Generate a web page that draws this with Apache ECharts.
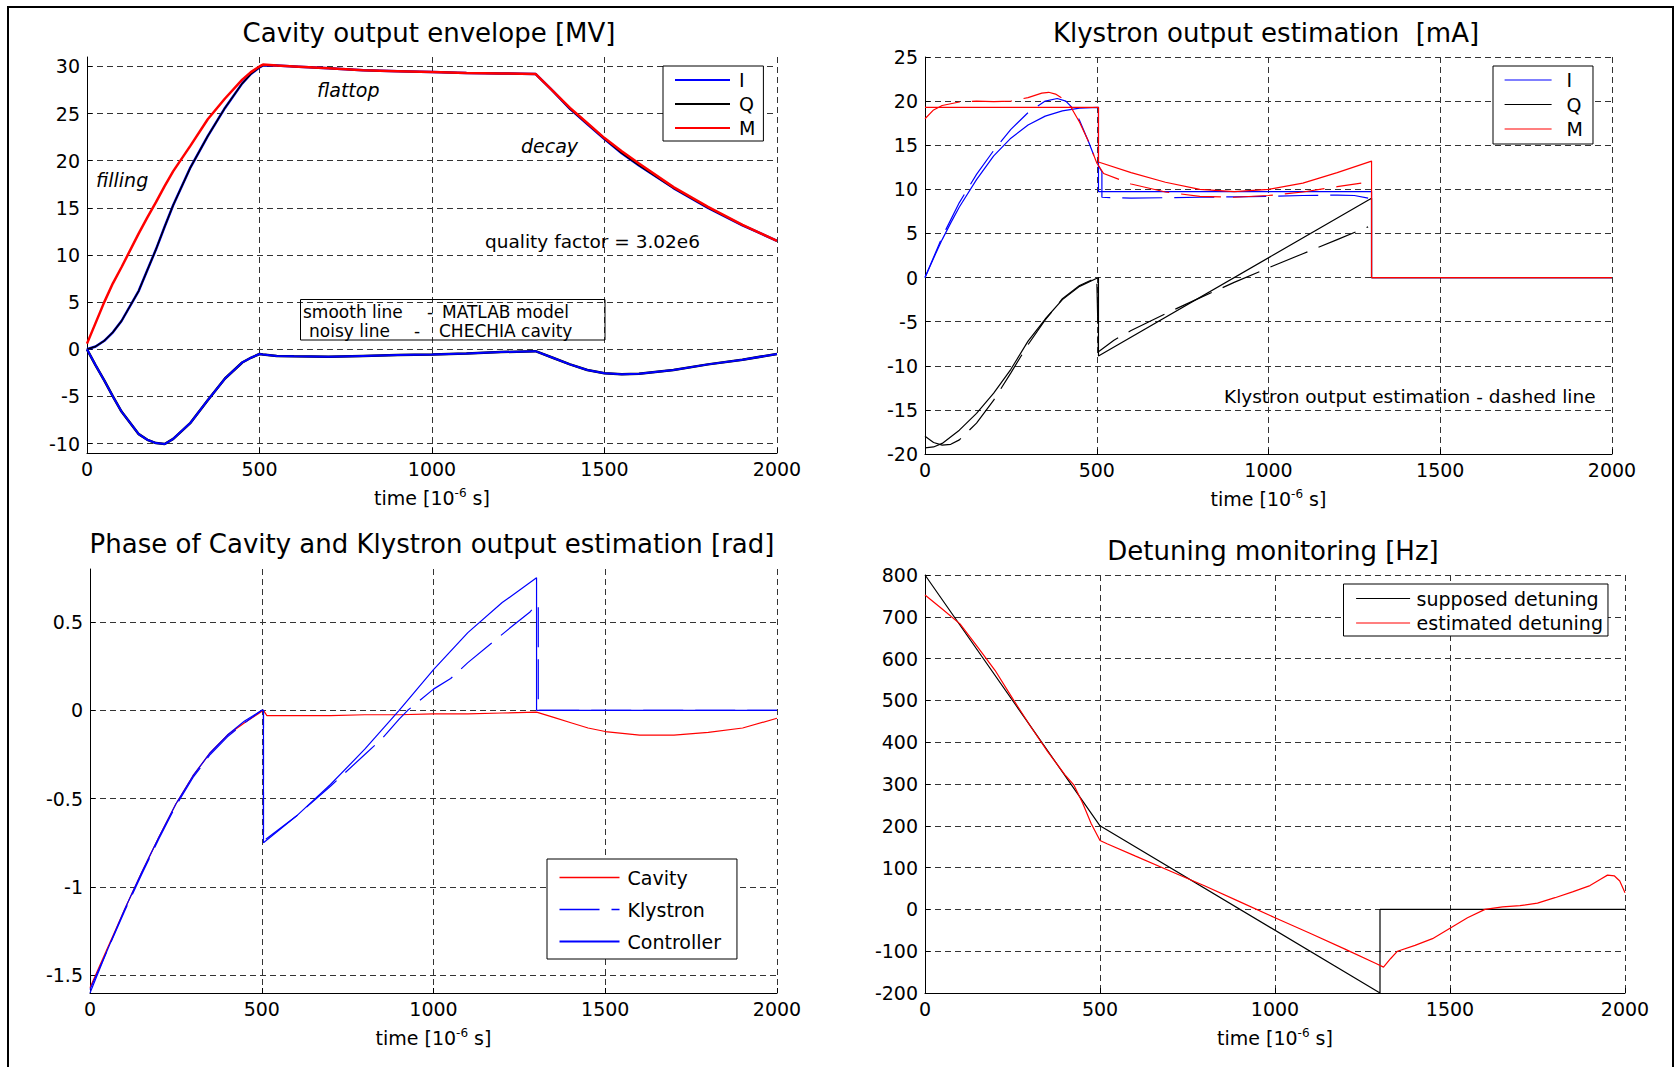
<!DOCTYPE html>
<html>
<head>
<meta charset="utf-8">
<title>Cavity, klystron and detuning monitoring</title>
<script src="https://cdn.jsdelivr.net/npm/echarts@6/dist/echarts.min.js"></script>
<style>
  html, body { margin: 0; padding: 0; background: #fff; }
  #chart { width: 1677px; height: 1067px; }
</style>
</head>
<body>
<div id="chart"></div>
<script>
// time axis is in 10^-6 s everywhere

// cavity output envelope [MV]
var p1Time = [0, 25, 50, 75, 100, 150, 175, 200, 225, 250, 300, 350, 400, 450, 475, 500, 510, 550, 600, 700, 800, 900, 1000, 1100, 1200, 1300, 1350, 1400, 1450, 1500, 1550, 1600, 1700, 1800, 1900, 2000];
var p1M = [0.6, 2.8, 5.0, 7.0, 8.7, 12.3, 14.0, 15.6, 17.3, 18.9, 21.6, 24.4, 26.6, 28.6, 29.4, 30.0, 30.2, 30.1, 30.0, 29.8, 29.6, 29.5, 29.4, 29.3, 29.25, 29.2, 27.4, 25.6, 24.0, 22.4, 21.0, 19.7, 17.2, 15.1, 13.2, 11.5];
var p1I = [0, 0.3, 0.9, 1.8, 3.0, 6.2, 8.4, 10.6, 13.0, 15.3, 19.3, 22.6, 25.6, 28.2, 29.2, 29.9, 30.1, 30.1, 30.0, 29.8, 29.6, 29.5, 29.4, 29.3, 29.25, 29.2, 27.4, 25.5, 23.9, 22.3, 20.8, 19.5, 17.1, 15.0, 13.15, 11.5];
var p1Q = [0, -1.7, -3.3, -5.0, -6.6, -9.0, -9.6, -9.95, -10.05, -9.5, -7.8, -5.4, -3.1, -1.4, -0.9, -0.5, -0.55, -0.7, -0.75, -0.8, -0.7, -0.6, -0.55, -0.45, -0.3, -0.2, -0.9, -1.6, -2.2, -2.55, -2.65, -2.6, -2.2, -1.6, -1.1, -0.5];

// klystron output [mA]: controller (solid) and estimation (dashed)
var p2ITime = [0, 25, 50, 75, 100, 150, 200, 250, 300, 350, 400, 450, 505, 505, 1300, 1300, 2000];
var p2I = [0, 2.2, 4.3, 6.2, 8.0, 11.1, 13.8, 15.8, 17.3, 18.3, 18.9, 19.2, 19.3, 9.75, 9.75, 0, 0];
var p2QTime = [0, 25, 50, 100, 150, 200, 250, 300, 350, 400, 450, 505, 505, 1300, 1300, 2000];
var p2Q = [-19.3, -19.2, -18.8, -17.3, -15.4, -13.1, -10.4, -7.2, -4.7, -2.5, -1.0, 0, -8.9, 9.0, 0, 0];
var p2MTime = [0, 505, 505, 600, 700, 800, 900, 1000, 1100, 1200, 1300, 1300, 2000];
var p2M = [19.3, 19.3, 13.1, 11.9, 10.8, 10.0, 9.75, 10.0, 10.7, 11.9, 13.2, 0, 0];
var p2EstITime = [0, 50, 100, 150, 200, 250, 300, 350, 385, 410, 430, 450, 475, 500, 515, 515, 600, 700, 800, 900, 1000, 1100, 1200, 1250, 1290];
var p2EstI = [0, 4.6, 8.5, 11.7, 14.4, 16.8, 18.7, 20.0, 20.3, 20.0, 19.2, 17.8, 15.5, 13.0, 12.0, 9.1, 9.0, 9.05, 9.1, 9.15, 9.2, 9.3, 9.35, 9.3, 9.0];
var p2EstQTime = [0, 25, 50, 75, 100, 150, 200, 250, 300, 350, 400, 450, 500, 505, 550, 600, 700, 800, 900, 1000, 1100, 1200, 1290];
var p2EstQ = [-18.0, -18.7, -19.0, -18.9, -18.4, -16.5, -13.9, -10.8, -7.6, -4.8, -2.4, -0.9, 0, -8.4, -7.1, -6.0, -4.1, -2.3, -0.55, 1.1, 2.7, 4.3, 5.75];
var p2EstMTime = [0, 25, 50, 100, 150, 200, 250, 300, 340, 360, 380, 400, 425, 450, 475, 500, 520, 600, 700, 800, 900, 1000, 1100, 1200, 1270];
var p2EstM = [18.0, 19.0, 19.5, 19.9, 20.0, 19.95, 20.0, 20.4, 20.9, 21.0, 20.8, 20.3, 19.3, 17.6, 15.5, 13.0, 11.8, 10.6, 9.7, 9.2, 9.1, 9.3, 9.7, 10.3, 10.7];

// phase [rad]
var p3CavityTime = [0, 25, 50, 75, 100, 150, 200, 250, 300, 350, 400, 450, 490, 505, 515, 600, 700, 800, 900, 1000, 1100, 1200, 1300, 1350, 1400, 1450, 1500, 1550, 1600, 1700, 1800, 1900, 2000];
var p3Cavity = [-1.57, -1.46, -1.35, -1.24, -1.13, -0.92, -0.72, -0.53, -0.37, -0.24, -0.14, -0.07, -0.02, 0, -0.03, -0.03, -0.03, -0.025, -0.025, -0.02, -0.02, -0.015, -0.01, -0.04, -0.07, -0.1, -0.12, -0.13, -0.14, -0.14, -0.125, -0.1, -0.045];
var p3CtrlTime = [0, 25, 50, 100, 150, 200, 250, 300, 350, 400, 450, 500, 505, 505, 600, 700, 800, 900, 1000, 1100, 1200, 1300, 1300, 2000];
var p3Ctrl = [-1.6, -1.48, -1.36, -1.13, -0.92, -0.72, -0.53, -0.37, -0.24, -0.14, -0.06, 0, 0, -0.75, -0.6, -0.42, -0.22, 0, 0.23, 0.44, 0.61, 0.75, 0, 0];
var p3KlyTime = [0, 25, 50, 100, 150, 200, 250, 300, 350, 400, 450, 500, 505, 505, 600, 700, 800, 850, 900, 925, 1000, 1050, 1100, 1175, 1225, 1280, 1300, 1305, 1305, 2000];
var p3Kly = [-1.58, -1.47, -1.36, -1.14, -0.93, -0.73, -0.54, -0.38, -0.25, -0.15, -0.07, 0, 0, -0.74, -0.6, -0.43, -0.25, -0.16, -0.05, 0, 0.12, 0.18, 0.27, 0.39, 0.47, 0.555, 0.6, 0.6, 0, 0];

// detuning [Hz]
var p4SupTime = [0, 500, 1300, 1300, 2000];
var p4Sup = [800, 200, -200, 0, 0];
var p4EstTime = [0, 50, 100, 150, 200, 250, 300, 350, 400, 425, 450, 475, 500, 520, 600, 700, 800, 900, 1000, 1100, 1200, 1290, 1310, 1330, 1350, 1400, 1450, 1500, 1550, 1600, 1650, 1700, 1750, 1800, 1850, 1900, 1930, 1950, 1970, 1985, 2000];
var p4Est = [752, 718, 683, 628, 572, 505, 440, 378, 322, 298, 255, 205, 165, 157, 128, 92, 56, 18, -20, -57, -95, -130, -138, -118, -100, -86, -70, -45, -20, 0, 6, 9, 15, 28, 42, 57, 72, 82, 80, 68, 40];

var p1Ticks = [-10, -5, 0, 5, 10, 15, 20, 25, 30];
var p3Ticks = [-1.5, -1, -0.5, 0, 0.5];

var FONT = '"DejaVu Sans", sans-serif';
var DASH = [40, 12];

function pairs(t, v) {
    return t.map(function (x, i) { return [x, v[i]]; });
}

function plain(v) {
    return String(v);
}

function xAxisOf(grid) {
    return {
        type: 'value', gridIndex: grid, min: 0, max: 2000, interval: 500,
        name: 'time [10{sup|-6} s]', nameLocation: 'middle', nameGap: 34,
        nameTextStyle: {
            color: '#000', fontFamily: FONT, fontSize: 19, lineHeight: 22,
            rich: { sup: { color: '#000', fontFamily: FONT, fontSize: 12, lineHeight: 12, verticalAlign: 'top' } }
        },
        axisLine: { onZero: false, lineStyle: { color: '#000', width: 1 } },
        axisTick: { inside: true, length: 5, lineStyle: { color: '#000' } },
        axisLabel: { color: '#000', fontFamily: FONT, fontSize: 19, margin: 6, formatter: plain },
        splitLine: { lineStyle: { color: '#333', width: 1, type: [6, 4] } }
    };
}

function yAxisOf(grid, min, max, interval, ticks) {
    var ax = {
        type: 'value', gridIndex: grid, min: min, max: max,
        axisLine: { show: true, onZero: false, lineStyle: { color: '#000', width: 1 } },
        axisTick: { show: true, inside: true, length: 5, lineStyle: { color: '#000' } },
        axisLabel: { color: '#000', fontFamily: FONT, fontSize: 19, margin: 7, formatter: plain },
        splitLine: { lineStyle: { color: '#333', width: 1, type: [6, 4] } }
    };
    if (ticks) {
        ax.axisTick.customValues = ticks;
        ax.axisLabel.customValues = ticks;
    } else {
        ax.interval = interval;
    }
    return ax;
}

function line(name, grid, data, color, width, opts) {
    opts = opts || {};
    return {
        type: 'line', name: name, xAxisIndex: grid, yAxisIndex: grid, data: data,
        symbol: 'none', showSymbol: false, animation: false, silent: true, z: opts.z || 2,
        lineStyle: { color: color, width: width, type: opts.dashed ? DASH : 'solid' },
        itemStyle: { color: color },
        emphasis: { disabled: true }
    };
}

function legendOf(left, top, padding, gap, w, textPad, data) {
    return {
        orient: 'vertical', left: left, top: top, padding: padding, itemGap: gap,
        itemWidth: w, itemHeight: 20, selectedMode: false,
        backgroundColor: '#fff', borderColor: '#000', borderWidth: 1, borderRadius: 0,
        itemStyle: { color: 'rgba(0,0,0,0)', borderWidth: 0, opacity: 0 },
        textStyle: { color: '#000', fontFamily: FONT, fontSize: 19, lineHeight: 20, padding: [0, 0, 0, textPad] },
        data: data
    };
}

function label(x, y, text, size, align, italic) {
    var font = (italic ? 'italic ' : '') + size + 'px ' + FONT;
    return {
        type: 'text', x: x, y: y, z: 100, silent: true,
        style: { text: text, font: font, fill: '#000', align: align, textAlign: align, verticalAlign: 'middle', textVerticalAlign: 'middle' }
    };
}

var chart = echarts.init(document.getElementById('chart'), null, { renderer: 'svg' });

chart.setOption({
    backgroundColor: '#fff',
    animation: false,
    grid: [
        { left: 87, top: 57, width: 690, height: 396 },
        { left: 925, top: 57, width: 687, height: 397 },
        { left: 90, top: 569, width: 687, height: 424 },
        { left: 925, top: 575, width: 700, height: 418 }
    ],
    xAxis: [xAxisOf(0), xAxisOf(1), xAxisOf(2), xAxisOf(3)],
    yAxis: [
        yAxisOf(0, -11, 31, null, p1Ticks),
        yAxisOf(1, -20, 25, 5),
        yAxisOf(2, -1.6, 0.8, null, p3Ticks),
        yAxisOf(3, -200, 800, 100)
    ],
    legend: [
        legendOf(663, 66, [4, 8, 3, 11], 4, 55, 4,
            [{ name: 'I', lineStyle: { width: 2 } }, { name: 'Q', lineStyle: { width: 2 } }, { name: 'M', lineStyle: { width: 2 } }]),
        legendOf(1493, 66, [4, 10, 5, 11], 4.5, 47, 10,
            [{ name: 'I', lineStyle: { width: 1.2 } }, { name: 'Q', lineStyle: { width: 1.2 } }, { name: 'M', lineStyle: { width: 1.2 } }]),
        legendOf(547, 859, [8.5, 16, 7.5, 11.5], 12, 60, 3,
            [{ name: 'Cavity', lineStyle: { width: 1.5 } }, { name: 'Klystron', lineStyle: { width: 1.5 } }, { name: 'Controller', lineStyle: { width: 2 } }]),
        legendOf(1343.5, 584, [4.5, 5, 3, 12], 4.5, 54, 1.5,
            [{ name: 'supposed detuning', lineStyle: { width: 1.2 } }, { name: 'estimated detuning', lineStyle: { width: 1.2 } }])
    ],
    graphic: [
        { type: 'polyline', z: 100, silent: true, shape: { points: [[8, 1067], [8, 7], [1673, 7], [1673, 1067]] }, style: { stroke: '#000', lineWidth: 2, fill: null } },
        label(429, 33, 'Cavity output envelope [MV]', 26, 'center'),
        label(1266, 33, 'Klystron output estimation  [mA]', 26, 'center'),
        label(432, 544, 'Phase of Cavity and Klystron output estimation [rad]', 26, 'center'),
        label(1273, 551, 'Detuning monitoring [Hz]', 26, 'center'),
        label(96, 180, 'filling', 19, 'left', true),
        label(317, 90, 'flattop', 19, 'left', true),
        label(521, 146, 'decay', 19, 'left', true),
        label(485, 241, 'quality factor = 3.02e6', 18.5, 'left'),
        { type: 'rect', z: 100, silent: true, shape: { x: 300.5, y: 299.5, width: 304.5, height: 40.5 }, style: { fill: null, stroke: '#000', lineWidth: 1 } },
        label(303, 311.5, 'smooth line', 17, 'left'),
        label(430, 311.5, '-', 17, 'center'),
        label(442, 311.5, 'MATLAB model', 17, 'left'),
        label(309, 330.5, 'noisy line', 17, 'left'),
        label(417, 330.5, '-', 17, 'center'),
        label(439, 330.5, 'CHECHIA cavity', 17, 'left'),
        label(1224, 396, 'Klystron output estimation - dashed line', 18.5, 'left')
    ],
    series: [
        // cavity envelope: smooth model and noisy measurement overlap
        line('I', 0, pairs(p1Time, p1I), '#0000ff', 2.5),
        line('I measured', 0, pairs(p1Time, p1I), '#000000', 1.5),
        line('Q', 0, pairs(p1Time, p1Q), '#000000', 2.5),
        line('Q measured', 0, pairs(p1Time, p1Q), '#0000ff', 2),
        line('M', 0, pairs(p1Time, p1M), '#ff0000', 2.5, { z: 3 }),

        line('I', 1, pairs(p2ITime, p2I), '#0000ff', 1.2),
        line('Q', 1, pairs(p2QTime, p2Q), '#000000', 1.2),
        line('I est', 1, pairs(p2EstITime, p2EstI), '#0000ff', 1.2, { dashed: true }),
        line('Q est', 1, pairs(p2EstQTime, p2EstQ), '#000000', 1.2, { dashed: true }),
        line('M est', 1, pairs(p2EstMTime, p2EstM), '#ff0000', 1.2, { dashed: true }),
        line('M', 1, pairs(p2MTime, p2M), '#ff0000', 1.2, { z: 3 }),

        line('Cavity', 2, pairs(p3CavityTime, p3Cavity), '#ff0000', 1.2),
        line('Klystron', 2, pairs(p3KlyTime, p3Kly), '#0000ff', 1.2, { dashed: true }),
        line('Controller', 2, pairs(p3CtrlTime, p3Ctrl), '#0000ff', 1.2),

        line('supposed detuning', 3, pairs(p4SupTime, p4Sup), '#000000', 1.2),
        line('estimated detuning', 3, pairs(p4EstTime, p4Est), '#ff0000', 1.2)
    ]
});
</script>
</body>
</html>
